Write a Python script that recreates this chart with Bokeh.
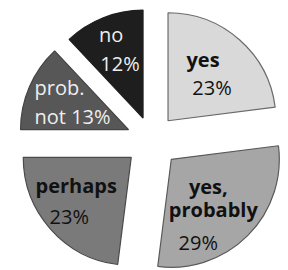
import math
from bokeh.plotting import figure
from bokeh.models import Range1d
from bokeh.core.properties import value
from bokeh.embed import file_html
from bokeh.resources import INLINE

# data
categories = ["yes", "yes, probably", "perhaps", "prob. not", "no"]
shares = [23, 29, 23, 13, 12]
percent_labels = ["23%", "29%", "23%", "13%", "12%"]

# styles
fills = ["#d9d9d9", "#a6a6a6", "#7a7a7a", "#575757", "#1e1e1e"]
outlines = ["#6a6a6a", "#5a5a5a", "#4a4a4a", "#444444", "#1e1e1e"]
explode = [25, 28, 27, 25, 23]
FONT = value("Open Sans")

p = figure(width=288, height=270, output_backend="svg", toolbar_location=None,
           x_range=Range1d(0, 288), y_range=Range1d(0, 270), min_border=0)
p.axis.visible = False
p.grid.visible = False
p.outline_line_color = None
p.background_fill_color = "white"

cx, cy, R = 151, 131, 108
total = sum(shares)
cum = 0.0
label_pos = []
for i, s in enumerate(shares):
    a0 = 90 - (cum + s) / total * 360
    a1 = 90 - cum / total * 360
    mid = math.radians((a0 + a1) / 2)
    ox = cx + explode[i] * math.cos(mid)
    oy = cy + explode[i] * math.sin(mid)
    p.wedge(x=ox, y=oy, radius=R, start_angle=math.radians(a0), end_angle=math.radians(a1),
            fill_color=fills[i], line_color=outlines[i], line_width=1.2)
    label_pos.append((ox, oy, mid))
    cum += s

def txt(x, y, t, color, bold, align="center"):
    p.text(x=[x], y=[y], text=[t], text_font=FONT, text_font_size="20px",
           text_font_style="bold" if bold else "normal", text_color=color,
           text_align=align, text_baseline="middle")

# label placements (relative to each slice apex, in pixels)
# yes
ox, oy, _ = label_pos[0]
txt(ox + 35, oy + 61, "yes", "#111111", True)
txt(ox + 44, oy + 33, percent_labels[0], "#111111", False)
# yes, probably
ox, oy, _ = label_pos[1]
txt(ox + 37, oy - 27, "yes,", "#111111", True)
txt(ox + 42, oy - 50, "probably", "#111111", True)
txt(ox + 27, oy - 83, percent_labels[1], "#111111", False)
# perhaps
ox, oy, _ = label_pos[2]
txt(ox - 55, oy - 28, "perhaps", "#111111", True)
txt(ox - 62, oy - 59, percent_labels[2], "#111111", False)
# prob. not
ox, oy, _ = label_pos[3]
txt(ox - 94, oy + 42, "prob.", "#eeeeee", False, "left")
txt(ox - 94, oy + 13, "not " + percent_labels[3], "#eeeeee", False, "left")
# no
ox, oy, _ = label_pos[4]
txt(ox - 32, oy + 84, "no", "#eeeeee", False)
txt(ox - 23, oy + 55, percent_labels[4], "#eeeeee", False)

open("out.html", "w").write(file_html(p, INLINE))
